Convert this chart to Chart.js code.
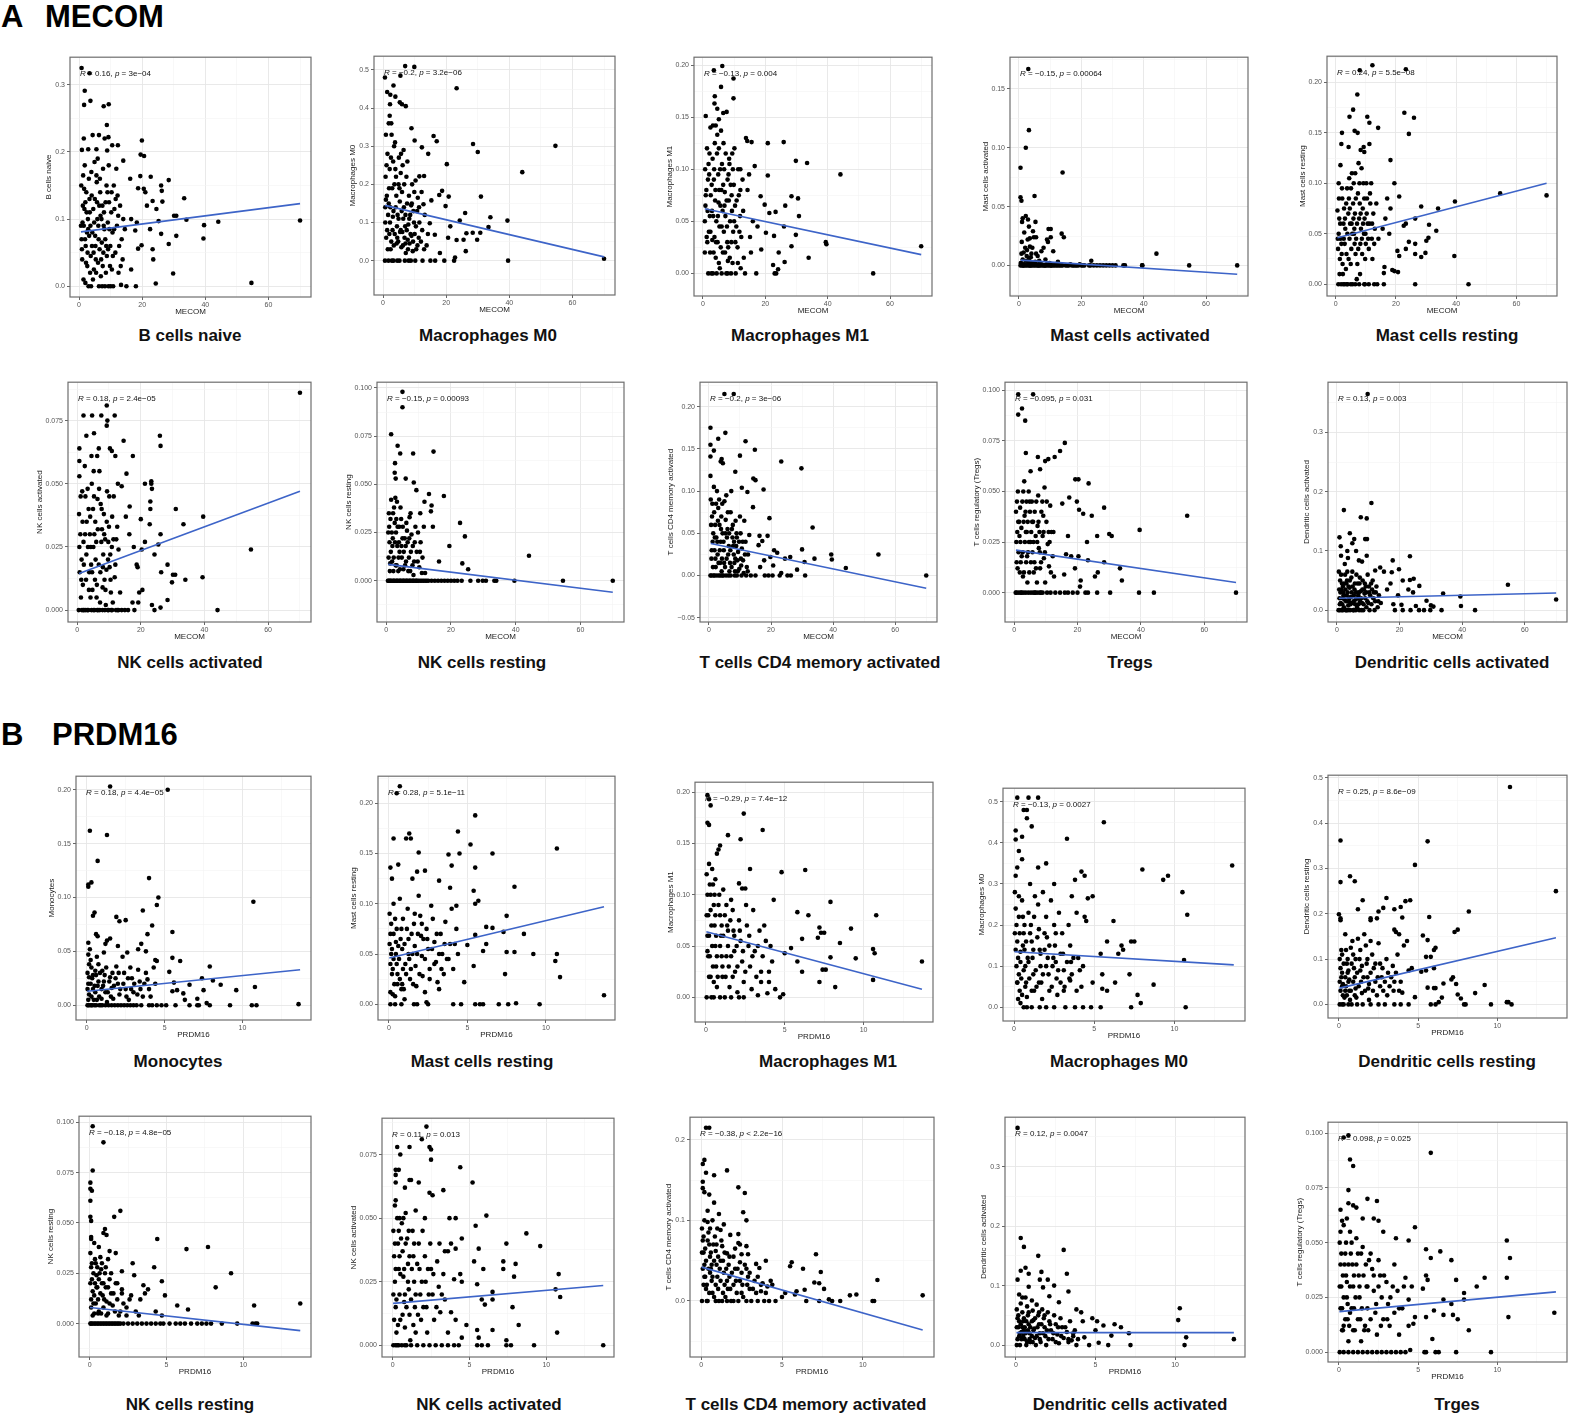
<!DOCTYPE html>
<html lang="en">
<head>
<meta charset="UTF-8">
<title>MECOM / PRDM16 immune infiltration correlations</title>
<script src="https://cdn.jsdelivr.net/npm/chart.js@4.4.1/dist/chart.umd.min.js"></script>
<style>
  body { margin: 0; background: #fff; width: 1571px; height: 1418px; position: relative; overflow: hidden;
         font-family: "Liberation Sans", Arial, sans-serif; }
  .hdr { position: absolute; font-weight: bold; font-size: 31px; line-height: 1; color: #000; }
  .ttl { position: absolute; font-weight: bold; font-size: 17px; transform: translate(-50%, -50%);
         white-space: nowrap; color: #111; }
  canvas { position: absolute; }
</style>
</head>
<body>
<div class="hdr" style="left:1px;top:1px">A</div>
<div class="hdr" style="left:45px;top:1px">MECOM</div>
<div class="hdr" style="left:1px;top:719px">B</div>
<div class="hdr" style="left:52px;top:719px">PRDM16</div>
<div id="root"></div>

<script>
// ---- data: [expression, cell fraction] per sample ----
const bCellsNaiveA = [[0.8,0.325],[3.3,0.317],[1.8,0.291],[1.6,0.27],[3.6,0.276],[7.8,0.268],[9.4,0.271],[8.8,0.24],[1.5,0.22],[4.3,0.225],[6.3,0.225],[8.1,0.22],[9.3,0.222],[10.5,0.21],[12.3,0.21],[19.9,0.217],[19.5,0.196],[20.6,0.194],[0.9,0.203],[2.9,0.204],[5.5,0.204],[8.9,0.202],[14,0.187],[16.2,0.16],[18.7,0.146],[19.4,0.164],[20.5,0.145],[22.7,0.163],[26,0.15],[26.2,0.142],[28.4,0.158],[23.3,0.127],[26.4,0.126],[24.5,0.115],[33.3,0.131],[30.1,0.105],[30.8,0.105],[34,0.099],[39.6,0.091],[44.1,0.096],[39.4,0.071],[30.8,0.075],[28.4,0.063],[26,0.078],[23.3,0.055],[23.5,0.04],[24.3,0.004],[29.8,0.019],[54.6,0.005],[70,0.098],[18,0.0],[15,0.0],[10,0.0],[13.3,0.002],[19.8,0.061],[18.7,0.056],[16.5,0.025],[21,0.14],[25.2,0.097],[22.5,0.085],[17.8,0.083],[16.5,0.1],[18.3,0.095],[21.5,0.12],
  [0.7,0.15],[1.2,0.12],[1.5,0.09],[2.1,0.06],[2.6,0.03],[3.0,0.0],[3.4,0.11],[3.9,0.17],[4.2,0.08],[4.6,0.05],[5.0,0.13],[5.4,0.02],[5.8,0.1],[6.2,0.07],[6.6,0.16],[7.0,0.04],[7.4,0.12],[7.8,0.09],[8.2,0.0],[8.6,0.06],[9.0,0.14],[9.4,0.18],[9.8,0.03],[10.2,0.11],[10.6,0.08],[11.0,0.15],[11.5,0.05],[12.0,0.09],[12.5,0.02],[13.0,0.12],[13.5,0.07],[14.0,0.1],[1.0,0.04],[1.8,0.18],[2.3,0.14],[2.8,0.1],[3.2,0.075],[3.7,0.045],[4.4,0.01],[4.9,0.185],[5.6,0.155],[6.0,0.035],[6.8,0.105],[7.2,0.065],[7.6,0.175],[8.4,0.125],[8.8,0.045],[9.6,0.085],[10.4,0.025],[11.2,0.115],[11.8,0.175],[12.7,0.06],[0.6,0.09],[1.4,0.01],[2.0,0.125],[2.5,0.08],[3.5,0.02],[4.0,0.135],[5.2,0.06],[6.4,0.12],[7.3,0.0],[8.0,0.085],[9.2,0.055],[10.8,0.0],[0.9,0.055],[1.6,0.145],[2.2,0.035],[4.8,0.095],[6.9,0.015],[5.9,0.19],[3.1,0.16],[12.2,0.135],[13.8,0.04],[14.5,0.085],
  [1.1,0.095],[1.9,0.07],[2.4,0.11],[2.7,0.05],[3.3,0.13],[3.6,0.09],[4.1,0.06],[4.5,0.115],[5.1,0.075],[5.3,0.04],[5.7,0.125],[6.1,0.09],[6.5,0.055],[6.7,0.14],[7.1,0.1],[7.5,0.03],[7.9,0.11],[8.3,0.07],[8.7,0.15],[9.1,0.095],[9.5,0.125],[9.9,0.06],[10.3,0.14],[10.7,0.045],[11.1,0.085],[11.6,0.13],[12.4,0.105],[13.2,0.03],[1.3,0.165],[2.0,0.005],[3.8,0.0],[4.7,0.025],[5.5,0.165],[6.3,0.0],[7.7,0.05],[8.5,0.02],[9.3,0.0],[0.8,0.07],[1.7,0.115],[2.9,0.085]];
const macroM0A = [[0.6,0.48],[7,0.51],[9.9,0.508],[5.5,0.485],[3.3,0.459],[1.3,0.442],[2.3,0.435],[3.9,0.43],[5.3,0.415],[6,0.41],[7.2,0.405],[2.2,0.41],[2.1,0.38],[9,0.347],[1.8,0.36],[2.6,0.36],[23.3,0.452],[28.5,0.306],[30,0.285],[54.6,0.301],[44.1,0.232],[20.2,0.253],[16,0.327],[17,0.313],[12.3,0.297],[14.3,0.28],[10,0.315],[31,0.168],[33.4,0.088],[34,0.114],[39.4,0.105],[39.6,0.0],[29.8,0.055],[30.8,0.073],[28.4,0.073],[26,0.125],[26.4,0.072],[26.2,0.025],[25.5,0.055],[24.3,0.105],[23.3,0.054],[22.8,0.008],[22.5,0.0],[20.6,0.06],[19.8,0.143],[20.8,0.168],[18.7,0.183],[17.8,0.172],[15.3,0.158],[14.8,0.098],[16.4,0.068],[18,0.02],[19.4,0.0],[15,0.0],[16.5,0.0],[70,0.005],[13,0.222],[11.5,0.221],[12.8,0.148],[21.3,0.09],
  [0.8,0.22],[1.2,0.17],[1.6,0.12],[2.0,0.07],[2.4,0.03],[2.8,0.0],[3.2,0.26],[3.6,0.2],[4.0,0.14],[4.4,0.09],[4.8,0.05],[5.2,0.0],[5.6,0.23],[6.0,0.18],[6.4,0.11],[6.8,0.06],[7.2,0.02],[7.6,0.15],[8.0,0.095],[8.4,0.045],[8.8,0.0],[9.2,0.2],[9.6,0.13],[10,0.07],[10.5,0.03],[11,0.165],[11.5,0.1],[12,0.05],[12.5,0.0],[13.2,0.12],[0.7,0.1],[1.0,0.06],[1.4,0.28],[1.9,0.19],[2.3,0.14],[2.7,0.33],[3.0,0.08],[3.4,0.04],[3.8,0.31],[4.2,0.17],[4.6,0.12],[5.0,0.27],[5.4,0.075],[5.8,0.035],[6.2,0.25],[6.6,0.14],[7.0,0.09],[7.4,0.22],[7.8,0.055],[8.2,0.17],[8.6,0.12],[9.0,0.065],[9.4,0.025],[9.8,0.1],[10.3,0.21],[10.8,0.13],[11.3,0.06],[12.2,0.18],[13.8,0.04],[14.2,0.07],[0.6,0.0],[1.7,0.0],[4.5,0.0],[6.9,0.0],[10.2,0.0],[3.1,0.115],[5.3,0.155],[7.1,0.045],[8.9,0.145],[2.1,0.24],[4.9,0.2],[0.9,0.33],[3.5,0.3],[6.5,0.29],
  [0.9,0.16],[1.3,0.08],[1.8,0.15],[2.2,0.1],[2.6,0.05],[2.9,0.19],[3.3,0.13],[3.7,0.07],[4.1,0.22],[4.5,0.06],[4.9,0.11],[5.2,0.19],[5.6,0.08],[5.9,0.13],[6.3,0.04],[6.7,0.2],[7.1,0.12],[7.5,0.08],[7.9,0.03],[8.3,0.11],[8.7,0.07],[9.1,0.15],[9.5,0.05],[9.9,0.18],[10.4,0.09],[10.9,0.04],[11.4,0.14],[12.4,0.08],[13,0.03],[1.1,0.25],[2.5,0.27],[3.9,0.24],[5.7,0.28],[7.7,0.26],[1.5,0.03],[3.3,0.0],[8.1,0.0],[0.7,0.14],[6.1,0.075],[4.3,0.045]];
const macroM1A = [[6.2,0.199],[3.5,0.195],[9.8,0.187],[5.8,0.179],[9.8,0.168],[3.8,0.17],[3.7,0.163],[4.6,0.158],[6.5,0.154],[7.6,0.155],[0.9,0.151],[5.1,0.148],[2.4,0.14],[3.2,0.142],[4.1,0.142],[5.8,0.137],[4.6,0.133],[13.8,0.13],[14.2,0.127],[15.6,0.126],[20.8,0.125],[25.9,0.126],[29.8,0.108],[33.4,0.106],[44.1,0.095],[20.8,0.094],[16.6,0.103],[12,0.1],[14.8,0.095],[18.5,0.074],[28.4,0.074],[30.5,0.072],[26.4,0.065],[30.8,0.055],[23.3,0.059],[19.8,0.066],[21.3,0.058],[26,0.045],[29.8,0.037],[22.8,0.036],[24.3,0.02],[28.4,0.026],[33.9,0.015],[39.4,0.03],[39.6,0.028],[54.6,0.0],[70,0.026],[26.2,0.011],[23,0.0],[23.5,0.0],[24.1,0.004],[22.5,0.008],[17.1,0.0],[20.2,0.039],[18.7,0.023],[17.5,0.045],[16,0.05],[15.4,0.02],[13.5,0.0],
  [0.7,0.1],[1.1,0.08],[1.5,0.06],[1.9,0.04],[2.3,0.02],[2.7,0.0],[3.1,0.11],[3.5,0.09],[3.9,0.07],[4.3,0.05],[4.7,0.03],[5.1,0.01],[5.5,0.1],[5.9,0.08],[6.3,0.06],[6.7,0.04],[7.1,0.02],[7.5,0.0],[7.9,0.09],[8.3,0.07],[8.7,0.05],[9.1,0.03],[9.5,0.01],[9.9,0.085],[10.3,0.065],[10.7,0.045],[11.1,0.025],[11.5,0.075],[11.9,0.055],[12.3,0.035],[12.7,0.09],[13.1,0.015],[0.6,0.05],[1.3,0.12],[2.0,0.095],[2.5,0.075],[3.3,0.055],[3.7,0.035],[4.1,0.015],[4.5,0.115],[4.9,0.095],[5.3,0.045],[5.7,0.025],[6.1,0.105],[6.5,0.085],[6.9,0.065],[7.3,0.115],[7.7,0.045],[8.1,0.025],[8.5,0.105],[8.9,0.085],[9.3,0.06],[9.7,0.04],[10.1,0.12],[10.5,0.0],[11.3,0.1],[12.1,0.005],[1.7,0.0],[4.4,0.0],[6.0,0.0],[9.0,0.0],[0.9,0.075],[2.2,0.055],[3.0,0.032],[5.0,0.068],[7.0,0.078],[8.0,0.012],[11.7,0.04],[12.9,0.06],[14.3,0.08],[15.1,0.035],
  [0.8,0.065],[1.2,0.035],[1.6,0.09],[1.8,0.105],[2.4,0.04],[2.8,0.085],[2.9,0.06],[3.4,0.02],[3.6,0.1],[4.0,0.08],[4.2,0.03],[4.8,0.055],[5.2,0.08],[5.4,0.005],[5.6,0.065],[6.0,0.045],[6.4,0.02],[6.8,0.1],[7.2,0.055],[7.6,0.07],[7.8,0.03],[8.2,0.095],[8.6,0.015],[9.2,0.075],[9.6,0.1],[10.0,0.05],[10.4,0.03],[10.8,0.07],[11.2,0.01],[12.0,0.08],[0.6,0.02],[1.4,0.03],[2.1,0.115],[3.8,0.125],[5.1,0.12],[6.6,0.125],[8.4,0.11],[9.4,0.115],[3.2,0.0],[7.9,0.0]];
const mastActA = [[3,0.167],[3.2,0.115],[2.2,0.1],[0.5,0.083],[14,0.079],[0.5,0.058],[0.8,0.055],[5,0.059],[1.2,0.04],[1,0.037],[2.2,0.042],[2.9,0.039],[3.2,0.033],[5.3,0.037],[4.5,0.029],[9.5,0.031],[10.2,0.031],[13.7,0.027],[14.4,0.024],[10.2,0.024],[9.3,0.02],[4.8,0.024],[5.5,0.024],[2.8,0.022],[3.5,0.023],[4.3,0.015],[3.5,0.016],[7.9,0.015],[9,0.022],[11,0.012],[0.8,0.01],[1.5,0.011],[2.5,0.008],[3.8,0.007],[5.5,0.01],[6.5,0.004],[23.2,0.004],[44.1,0.01],[1.2,0.005],[3,0.003],[2,0.015],
  [0.5,0],[1,0],[1.5,0],[2,0],[2.5,0],[3,0],[3.5,0],[4,0],[4.5,0],[5,0],[5.5,0],[6,0],[6.5,0],[7,0],[7.5,0],[8,0],[8.5,0],[9,0],[9.5,0],[10,0],[10.5,0],[11,0],[11.5,0],[12,0],[12.5,0],[13,0],[14,0],[15,0],[16,0],[17,0],[18,0],[19,0],[20,0],[21,0],[22.5,0],[24,0],[25,0],[26,0],[27,0],[29,0],[30,0],[31,0],[33.5,0],[34,0],[39.5,0],[39.6,0],[54.6,0],[70,0],[1.8,0.001],[4.2,0.001],[6.8,0.002],[8.8,0.001],[12.3,0.001],[16.5,0.001],[19.5,0.001],
  [0.6,0.002],[1.3,0.001],[2.3,0.004],[3.3,0.006],[4.1,0.002],[5.2,0.003],[6.2,0.001],[7.3,0.001],[9.8,0.002],[11.8,0.001],[0.9,0.02],[1.7,0.028],[2.6,0.013],[4.0,0.01],[6.0,0.008],[7.2,0.012],[8.5,0.005],[12.5,0.003],[1.4,0],[3.6,0],[6.3,0],[8.3,0],[10.3,0],[13.5,0],[15.5,0],[17.5,0],[18.5,0],[20.5,0],[23,0],[28,0]];
const mastRestA = [[12.2,0.217],[8,0.212],[23.3,0.213],[7.2,0.188],[22.8,0.17],[26,0.165],[5.8,0.173],[4.6,0.166],[10.5,0.166],[11.2,0.16],[24.3,0.149],[14.1,0.155],[2.1,0.15],[6.3,0.152],[7.3,0.15],[1.9,0.139],[4.3,0.136],[11.2,0.139],[9.3,0.136],[9.5,0.131],[8.3,0.133],[18.2,0.123],[19.5,0.1],[21.1,0.087],[28.4,0.077],[34,0.075],[39.6,0.082],[54.6,0.09],[70,0.088],[26.4,0.065],[23.3,0.06],[22.6,0.058],[31,0.059],[33.4,0.053],[30.8,0.046],[30.1,0.043],[26.4,0.04],[24.3,0.042],[23.3,0.035],[26.4,0.03],[28.4,0.027],[29.8,0.031],[39.4,0.028],[26.4,0.0],[44.1,0.0],[21.1,0.028],[20.5,0.033],[19.5,0.013],[20.7,0.012],[18.8,0.014],[16.2,0.017],[16,0.011],[16,0.0],[13.8,0.0],[12.8,0.0],[9.5,0.0],[7.8,0.0],[1,0.1],[1.6,0.118],[17.8,0.05],[15.6,0.055],[14.2,0.045],[17.1,0.085],[18.2,0.075],[16.5,0.065],
  [0.6,0.073],[1.0,0.05],[1.4,0.025],[1.8,0.0],[2.2,0.085],[2.6,0.06],[3.0,0.04],[3.4,0.015],[3.8,0.095],[4.2,0.07],[4.6,0.045],[5.0,0.02],[5.4,0.11],[5.8,0.08],[6.2,0.055],[6.6,0.03],[7.0,0.005],[7.4,0.09],[7.8,0.065],[8.2,0.04],[8.6,0.115],[9.0,0.075],[9.4,0.05],[9.8,0.025],[10.2,0.1],[10.6,0.06],[11.0,0.035],[11.5,0.08],[12.0,0.045],[12.5,0.07],[13.0,0.055],[0.8,0.035],[1.2,0.065],[1.6,0.045],[2.0,0.03],[2.4,0.01],[2.8,0.075],[3.2,0.055],[3.6,0.03],[4.0,0.0],[4.4,0.085],[4.8,0.06],[5.2,0.035],[5.6,0.0],[6.0,0.1],[6.4,0.07],[6.8,0.045],[7.2,0.02],[7.6,0.12],[8.0,0.08],[8.4,0.055],[8.8,0.03],[9.2,0.1],[9.6,0.065],[10.0,0.04],[10.4,0.085],[11.2,0.06],[11.8,0.1],[12.2,0.025],[13.5,0.08],[3.0,0.0],[5.0,0.0],[6.5,0.0],[2.5,0.0],
  [0.7,0.045],[1.1,0.085],[1.5,0.06],[1.9,0.04],[2.3,0.02],[2.7,0.045],[3.1,0.065],[3.5,0.08],[3.9,0.05],[4.3,0.025],[4.7,0.075],[5.1,0.095],[5.5,0.05],[5.9,0.065],[6.3,0.04],[6.7,0.085],[7.1,0.06],[7.5,0.035],[7.9,0.1],[8.3,0.07],[8.7,0.045],[9.1,0.06],[9.5,0.085],[9.9,0.05],[10.3,0.07],[10.8,0.045],[11.4,0.09],[12.1,0.06],[12.8,0.04],[1.3,0.01],[2.1,0.095],[4.5,0.105],[6.5,0.11],[8.1,0.01],[9.7,0.0],[11.0,0.0],[0.9,0.0],[3.7,0.0],[5.3,0.06],[6.1,0.05]];
const nkActA = [[70,0.086],[9.3,0.081],[2,0.077],[4.7,0.077],[7.6,0.077],[11.8,0.077],[9.5,0.075],[9.3,0.073],[2.9,0.069],[5.3,0.07],[26,0.069],[26.2,0.065],[14.6,0.067],[0.7,0.064],[10.3,0.064],[10.9,0.063],[6.8,0.064],[12,0.061],[17.5,0.061],[0.7,0.059],[4.5,0.061],[6.3,0.061],[0.7,0.053],[15.5,0.054],[23.3,0.051],[21.3,0.05],[23.3,0.05],[23.5,0.048],[12.8,0.05],[14,0.049],[31,0.04],[39.6,0.037],[23,0.043],[23,0.04],[16.5,0.041],[20,0.036],[22.8,0.034],[33.4,0.034],[26.2,0.03],[25.5,0.026],[24.3,0.022],[21.3,0.027],[20.3,0.024],[54.6,0.024],[28.4,0.018],[26.4,0.015],[30.1,0.014],[30.8,0.014],[34,0.012],[39.4,0.013],[29.8,0.011],[28.4,0.004],[26.2,0.001],[24.3,0.0],[23.5,0.002],[44.1,0.0],[19.5,0.007],[20.5,0.008],[19.2,0.003],[18,0.0],[17.4,0.003],[15,0.0],[16,0.0],[14,0.0],[18.7,0.018],[17.8,0.025],[16.4,0.03],[15.3,0.037],[19,0.017],
  [0.6,0.038],[1.0,0.03],[1.4,0.02],[1.8,0.01],[2.2,0.0],[2.6,0.045],[3.0,0.035],[3.4,0.025],[3.8,0.015],[4.2,0.005],[4.6,0.05],[5.0,0.04],[5.4,0.03],[5.8,0.02],[6.2,0.01],[6.6,0.0],[7.0,0.055],[7.4,0.042],[7.8,0.032],[8.2,0.022],[8.6,0.012],[9.0,0.002],[9.4,0.047],[9.8,0.027],[10.2,0.017],[10.6,0.007],[11.0,0.037],[11.4,0.028],[11.8,0.013],[12.2,0.0],[12.6,0.033],[13.0,0.024],[0.8,0.015],[1.2,0.005],[1.6,0.047],[2.0,0.027],[2.4,0.057],[2.8,0.012],[3.2,0.0],[3.6,0.04],[4.0,0.03],[4.4,0.018],[4.8,0.008],[5.2,0.055],[5.6,0.012],[6.0,0.027],[6.4,0.044],[6.8,0.018],[7.2,0.003],[7.6,0.027],[8.0,0.009],[8.4,0.038],[8.8,0.028],[9.2,0.016],[9.6,0.0],[10.0,0.033],[10.4,0.022],[11.2,0.003],[12.0,0.018],[13.5,0.007],[0.5,0.0],[1.5,0.0],[4.5,0.0],[8.0,0.0],[11.0,0.0],[13.0,0.0],[5.5,0.0],
  [0.7,0.025],[1.1,0.045],[1.3,0.012],[1.7,0.035],[2.1,0.018],[2.5,0.03],[2.9,0.022],[3.3,0.048],[3.7,0.008],[4.1,0.037],[4.3,0.025],[4.7,0.015],[5.1,0.025],[5.3,0.045],[5.7,0.035],[6.1,0.005],[6.5,0.032],[6.9,0.048],[7.3,0.015],[7.7,0.04],[8.1,0.017],[8.5,0.03],[8.9,0.008],[9.3,0.035],[9.7,0.02],[10.1,0.045],[10.5,0.012],[10.9,0.025],[11.5,0.045],[12.3,0.028],[1.9,0],[2.7,0],[3.5,0],[5.1,0],[6.3,0],[7.1,0],[8.7,0],[9.9,0],[10.7,0],[12.7,0]];
const nkRestA = [[5,0.098],[5,0.09],[1.5,0.076],[3.5,0.07],[4.3,0.066],[8.3,0.066],[14.6,0.067],[2.7,0.061],[2.6,0.056],[2.9,0.053],[6,0.053],[8.5,0.051],[9.3,0.047],[13.2,0.045],[17.8,0.044],[1.5,0.042],[2.8,0.043],[3.3,0.041],[11.8,0.041],[14,0.039],[13.8,0.036],[10.5,0.035],[7.5,0.035],[22.8,0.03],[24.3,0.023],[14.4,0.028],[19.5,0.018],[23.5,0.009],[25.3,0.006],[44.1,0.013],[16.3,0.01],
  [0.6,0.025],[1.0,0.02],[1.4,0.015],[1.8,0.01],[2.2,0.005],[2.6,0.03],[3.0,0.025],[3.4,0.018],[3.8,0.012],[4.2,0.006],[4.6,0.032],[5.0,0.022],[5.4,0.015],[5.8,0.008],[6.2,0.03],[6.6,0.02],[7.0,0.012],[7.4,0.005],[7.8,0.024],[8.2,0.018],[8.6,0.01],[9.0,0.028],[9.4,0.015],[9.8,0.025],[10.2,0.007],[10.6,0.02],[11.2,0.012],[12.0,0.004],[0.8,0.035],[1.2,0.009],[2.0,0.022],[2.4,0.038],[3.2,0.008],[4.0,0.028],[4.8,0.012],[6.0,0.018],[7.2,0.033],[8.4,0.003],[11.6,0.028],
  [0.5,0],[1,0],[1.5,0],[2,0],[2.5,0],[3,0],[3.5,0],[4,0],[4.5,0],[5,0],[5.5,0],[6,0],[6.5,0],[7,0],[7.5,0],[8,0],[8.5,0],[9,0],[9.5,0],[10,0],[10.5,0],[11,0],[11.5,0],[12,0],[12.5,0],[13,0],[14,0],[15,0],[16,0],[17,0],[18,0],[19,0],[20,0],[21,0],[22,0],[23.3,0],[26,0],[28.4,0],[29.8,0],[30.8,0],[33.4,0],[34,0],[39.6,0],[54.6,0],[70,0],
  [0.7,0.012],[0.9,0.028],[1.1,0.005],[1.3,0.032],[1.7,0.025],[1.9,0.018],[2.1,0.035],[2.3,0.012],[2.7,0.02],[2.9,0.008],[3.1,0.032],[3.5,0.028],[3.7,0.005],[3.9,0.02],[4.1,0.015],[4.4,0.038],[4.7,0.018],[5.1,0.028],[5.3,0.006],[5.7,0.022],[6.1,0.01],[6.4,0.026],[6.8,0.005],[7.1,0.022],[7.6,0.015],[8.1,0.008],[8.8,0.02],[9.7,0.01],[10.4,0.015],[11.0,0.004],[0.7,0],[1.3,0],[2.3,0],[3.3,0],[4.3,0],[5.3,0],[6.3,0],[7.3,0],[8.3,0],[9.3,0]];
const cd4ActA = [[5,0.215],[8,0.215],[0.5,0.175],[5.3,0.169],[3,0.162],[11.8,0.159],[0.5,0.155],[14.8,0.149],[1.6,0.148],[0.5,0.141],[10,0.142],[4.1,0.138],[4.5,0.133],[3.8,0.135],[23.3,0.135],[29.8,0.127],[8.5,0.123],[0.5,0.118],[14.3,0.115],[15,0.113],[17.6,0.102],[10.6,0.104],[12.4,0.099],[14.2,0.081],[19.5,0.068],[33.4,0.057],[18.9,0.047],[16.3,0.047],[17.2,0.041],[16,0.036],[21,0.03],[22,0.027],[24.5,0.02],[26.2,0.022],[30,0.031],[30.8,0.016],[34,0.02],[39.4,0.025],[39.6,0.019],[44.1,0.009],[54.6,0.025],[70,0.0],[31,0.0],[28.4,0.007],[26.4,0.0],[25.3,0.0],[23.3,0.003],[22.8,0.0],[20.5,0.0],[19.2,0.0],[18,0.0],[20.7,0.012],[19.8,0.022],[17.8,0.018],[16.5,0.01],[15,0.0],
  [0.6,0.09],[1.0,0.07],[1.4,0.05],[1.8,0.03],[2.2,0.01],[2.6,0.1],[3.0,0.08],[3.4,0.06],[3.8,0.04],[4.2,0.02],[4.6,0.0],[5.0,0.088],[5.4,0.066],[5.8,0.045],[6.2,0.025],[6.6,0.005],[7.0,0.075],[7.4,0.055],[7.8,0.035],[8.2,0.015],[8.6,0.065],[9.0,0.045],[9.4,0.028],[9.8,0.008],[10.2,0.05],[10.6,0.032],[11.0,0.018],[11.4,0.065],[11.8,0.04],[12.2,0.01],[12.6,0.025],[13.0,0.048],[0.8,0.02],[1.2,0.04],[1.6,0.105],[2.0,0.06],[2.4,0.045],[2.8,0.025],[3.2,0.0],[3.6,0.015],[4.0,0.07],[4.4,0.05],[4.8,0.03],[5.2,0.01],[5.6,0.095],[6.0,0.055],[6.4,0.035],[6.8,0.015],[7.2,0.1],[7.6,0.045],[8.0,0.025],[8.4,0.005],[8.8,0.035],[9.2,0.018],[10.0,0.07],[10.4,0.012],[11.2,0.003],[0.5,0.0],[1.5,0.0],[2.5,0.0],[5.5,0.0],[7.0,0.0],[9.0,0.0],[10.5,0.0],[12.0,0.0],[13.5,0.0],
  [0.7,0.06],[0.9,0.03],[1.1,0.085],[1.3,0.01],[1.7,0.075],[1.9,0.045],[2.1,0.02],[2.3,0.085],[2.7,0.04],[2.9,0.065],[3.1,0.015],[3.3,0.09],[3.5,0.03],[3.9,0.055],[4.1,0.005],[4.3,0.085],[4.7,0.04],[4.9,0.015],[5.3,0.05],[5.7,0.02],[6.1,0.075],[6.5,0.05],[6.9,0.03],[7.3,0.01],[7.7,0.06],[8.1,0.04],[8.5,0.02],[8.9,0.05],[9.3,0.005],[9.7,0.04],[10.3,0.02],[10.9,0.04],[11.6,0.025],[12.5,0.005],[0.8,0],[1.8,0],[3.7,0],[4.3,0],[6.3,0],[8.3,0]];
const tregsA = [[1.3,0.098],[6,0.098],[2.5,0.091],[1.3,0.088],[3.5,0.085],[16,0.074],[14.5,0.07],[3.7,0.069],[12.8,0.067],[10.8,0.066],[9.8,0.065],[7.5,0.067],[8.2,0.061],[5.2,0.06],[19.3,0.056],[20.3,0.056],[23.5,0.054],[54.6,0.038],[28.4,0.042],[19.8,0.045],[17.4,0.047],[15.2,0.044],[20.5,0.041],[21.8,0.039],[24.5,0.038],[39.6,0.031],[26.2,0.028],[30,0.029],[30.8,0.028],[17,0.028],[23,0.025],[28.4,0.015],[33.4,0.012],[34,0.006],[26.4,0.01],[25.5,0.008],[23.3,0.016],[20.3,0.018],[18,0.018],[21,0.006],[20.8,0.003],[19.2,0.012],[16.4,0.019],[15.8,0.009],[70,0.0],[44.1,0.0],[39.4,0.0],[30.3,0.0],[26.2,0.0],[23.3,0.0],[22.5,0.0],[20,0.0],[18.5,0.0],[17,0.0],[16,0.0],[14.5,0.0],[13,0.0],
  [0.6,0.04],[1.0,0.03],[1.4,0.02],[1.8,0.01],[2.2,0.0],[2.6,0.045],[3.0,0.035],[3.4,0.025],[3.8,0.015],[4.2,0.005],[4.6,0.05],[5.0,0.04],[5.4,0.03],[5.8,0.02],[6.2,0.01],[6.6,0.0],[7.0,0.045],[7.4,0.033],[7.8,0.022],[8.2,0.012],[8.6,0.04],[9.0,0.028],[9.4,0.017],[9.8,0.005],[10.2,0.035],[10.6,0.024],[11.0,0.013],[11.4,0.043],[11.8,0.03],[12.2,0.018],[12.6,0.008],[0.8,0.015],[1.2,0.05],[1.6,0.035],[2.0,0.025],[2.4,0.018],[2.8,0.008],[3.2,0.055],[3.6,0.04],[4.0,0.03],[4.4,0.02],[4.8,0.01],[5.2,0.025],[5.6,0.045],[6.0,0.035],[6.4,0.015],[6.8,0.028],[7.2,0.005],[7.6,0.048],[8.0,0.03],[8.4,0.0],[9.2,0.038],[9.6,0.052],[10.4,0.0],[11.2,0.025],[0.5,0.0],[1.5,0.0],[3.0,0.0],[4.5,0.0],[6.0,0.0],[7.5,0.0],[9.0,0.0],[11.5,0.0],
  [0.7,0.025],[0.9,0.045],[1.1,0.012],[1.3,0.035],[1.7,0.028],[1.9,0.042],[2.1,0.015],[2.3,0.032],[2.7,0.02],[2.9,0.05],[3.1,0.01],[3.3,0.038],[3.7,0.03],[3.9,0.045],[4.1,0.018],[4.3,0.035],[4.7,0.025],[4.9,0.045],[5.3,0.015],[5.7,0.035],[6.1,0.025],[6.5,0.04],[6.9,0.012],[7.3,0.025],[7.7,0.035],[8.1,0.02],[8.5,0.015],[8.9,0.045],[9.3,0.03],[9.7,0.02],[10.3,0.045],[10.9,0.03],[11.6,0.01],[12.4,0.03],[0.8,0],[2.3,0],[3.7,0],[5.3,0],[6.7,0],[8.3,0]];
const dcActA = [[9.8,0.365],[11,0.181],[2.2,0.169],[7.6,0.157],[9.5,0.155],[4.1,0.13],[0.8,0.123],[9,0.12],[9.6,0.12],[5.5,0.12],[4.9,0.113],[1.2,0.108],[3.3,0.1],[1.3,0.092],[6.1,0.1],[9.5,0.092],[23.3,0.091],[17.8,0.084],[7,0.084],[3.5,0.088],[8,0.082],[2.5,0.078],[13.8,0.072],[12.2,0.067],[19.8,0.069],[17.5,0.064],[15,0.065],[24.5,0.053],[23.3,0.051],[21,0.05],[26.3,0.041],[33.9,0.028],[54.6,0.043],[39.4,0.023],[39.6,0.007],[44.1,0.0],[70,0.018],[28.6,0.016],[30,0.008],[30.8,0.006],[33.4,0.0],[29.8,0.0],[26.2,0.0],[25.2,0.007],[24.3,0.03],[22.8,0.035],[19.5,0.025],[20.6,0.009],[18,0.01],[16,0.035],[17.1,0.045],[18.5,0.0],[21,0.0],[23.5,0.0],[27.8,0.0],
  [0.6,0.065],[1.0,0.05],[1.4,0.035],[1.8,0.02],[2.2,0.005],[2.6,0.06],[3.0,0.045],[3.4,0.03],[3.8,0.015],[4.2,0.0],[4.6,0.055],[5.0,0.04],[5.4,0.025],[5.8,0.01],[6.2,0.06],[6.6,0.045],[7.0,0.03],[7.4,0.015],[7.8,0.0],[8.2,0.05],[8.6,0.035],[9.0,0.02],[9.4,0.005],[9.8,0.06],[10.2,0.04],[10.6,0.025],[11.0,0.01],[11.4,0.05],[11.8,0.03],[12.2,0.015],[12.6,0.04],[13.0,0.005],[13.4,0.025],[14.0,0.012],[0.8,0.02],[1.2,0.012],[1.6,0.045],[2.0,0.03],[2.4,0.018],[2.8,0.0],[3.2,0.05],[3.6,0.008],[4.0,0.038],[4.4,0.022],[4.8,0.012],[5.2,0.0],[5.6,0.035],[6.0,0.018],[6.4,0.005],[6.8,0.025],[7.2,0.045],[7.6,0.032],[8.0,0.012],[8.4,0.0],[8.8,0.028],[9.2,0.04],[10.0,0.012],[10.4,0.0],[11.2,0.035],[12.0,0.0],[0.5,0.0],[1.5,0.0],[3.0,0.0],[6.0,0.0],
  [0.7,0.035],[0.9,0.01],[1.1,0.03],[1.3,0.06],[1.7,0.01],[1.9,0.04],[2.1,0.025],[2.3,0.045],[2.7,0.035],[2.9,0.015],[3.1,0.025],[3.3,0.065],[3.7,0.04],[3.9,0.02],[4.1,0.05],[4.3,0.01],[4.7,0.03],[4.9,0.065],[5.3,0.015],[5.7,0.045],[6.1,0.03],[6.5,0.02],[6.9,0.01],[7.3,0.055],[7.7,0.02],[8.1,0.035],[8.5,0.01],[8.9,0.045],[9.3,0.03],[9.7,0.015],[10.3,0.03],[10.9,0.045],[11.6,0.02],[12.4,0.03],[13.2,0.015],[0.9,0],[1.9,0],[3.5,0],[5.3,0],[7.1,0]];

const monocytesB = [[1.5,0.203],[5.2,0.2],[0.2,0.162],[1.3,0.158],[0.7,0.134],[4,0.118],[0.1,0.112],[0.3,0.114],[0.1,0.11],[4.6,0.1],[4.5,0.093],[10.7,0.096],[3.6,0.088],[0.5,0.086],[0.4,0.083],[1.9,0.082],[2.1,0.078],[2.5,0.079],[4.2,0.074],[5.5,0.068],[0.6,0.066],[0.7,0.064],[3.9,0.066],[1.3,0.06],[1.5,0.062],[1.2,0.057],[1.1,0.049],[2.6,0.049],[2,0.055],[3.3,0.052],[3.8,0.05],[4.4,0.042],[4.5,0.041],[3.5,0.057],[5.5,0.044],[6,0.041],[7.9,0.036],[7.4,0.025],[8.1,0.023],[8.6,0.019],[9.6,0.014],[10.8,0.017],[13.6,0.001],[10.9,0.0],[10.6,0.0],[9.2,0.0],[7.9,0.0],[7.2,0.0],[7.1,0.0],[6.6,0.0],[6.3,0.005],[5.7,0.0],[5.1,0.0],[4.8,0.0],[4.5,0.0],[5.3,0.031],[5.6,0.021],[5.5,0.013],[5.8,0.014],[6.2,0.011],[6.6,0.019],[7.1,0.006],[7.5,0.014],[7.7,0.002],[0.1,0.047],[0.1,0.058],[0.2,0.052],
  [0.05,0.03],[0.1,0.02],[0.15,0.01],[0.2,0.0],[0.3,0.035],[0.35,0.025],[0.4,0.015],[0.45,0.005],[0.6,0.028],[0.7,0.018],[0.8,0.008],[0.9,0.0],[1.0,0.032],[1.1,0.022],[1.2,0.012],[1.3,0.003],[1.5,0.026],[1.6,0.016],[1.7,0.006],[1.9,0.036],[2.0,0.02],[2.1,0.01],[2.2,0.0],[2.4,0.03],[2.5,0.015],[2.7,0.005],[2.9,0.025],[3.0,0.012],[3.2,0.0],[3.4,0.022],[3.6,0.008],[3.8,0.03],[4.0,0.015],[4.2,0.0],[4.4,0.02],[0.05,0.0],[0.25,0.042],[0.5,0.0],[0.75,0.038],[1.4,0.0],[1.8,0.0],[2.6,0.0],[3.0,0.0],[3.5,0.0],[4.0,0.0],[0.15,0.026],[0.55,0.012],[0.95,0.015],[1.25,0.035],[1.65,0.03],[2.3,0.045],[2.8,0.035],[3.3,0.033],[3.9,0.024],[4.3,0.035],[0.65,0.045],[0.35,0.0],
  [0.05,0.015],[0.1,0.005],[0.15,0.038],[0.25,0.02],[0.3,0.008],[0.4,0.028],[0.5,0.018],[0.55,0.032],[0.65,0.005],[0.75,0.022],[0.85,0.03],[0.95,0.006],[1.05,0.018],[1.15,0.028],[1.35,0.012],[1.45,0.022],[1.55,0.008],[1.75,0.018],[1.85,0.025],[2.05,0.03],[2.15,0.015],[2.35,0.02],[2.55,0.008],[2.65,0.025],[2.85,0.015],[3.05,0.02],[3.25,0.01],[3.45,0.015],[3.7,0.02],[4.1,0.008],[0.1,0],[0.3,0],[0.6,0],[0.8,0],[1.0,0],[1.2,0],[1.6,0],[2.0,0],[2.4,0],[2.8,0]];
const mastRestB = [[0.7,0.217],[0.5,0.21],[5.5,0.188],[4.4,0.172],[1.3,0.17],[0.3,0.165],[1.1,0.165],[1.4,0.165],[3.8,0.149],[4.5,0.15],[5.2,0.159],[6.6,0.15],[10.7,0.155],[1.9,0.151],[4,0.138],[0.6,0.139],[5.5,0.136],[0.1,0.136],[1.5,0.125],[2.3,0.133],[1.8,0.132],[3.2,0.123],[0.2,0.125],[3.9,0.116],[8,0.117],[5.4,0.113],[5.7,0.103],[4.3,0.098],[5.5,0.1],[7.5,0.088],[6.6,0.076],[8.6,0.07],[7.3,0.072],[6.2,0.077],[5.5,0.069],[6.2,0.06],[9.2,0.05],[10.7,0.05],[10.6,0.043],[7.5,0.052],[8,0.052],[10.9,0.027],[7.4,0.03],[13.7,0.009],[5.4,0.038],[4.8,0.022],[6,0.053],[5,0.059],[8.1,0.001],[9.6,0.0],[7.6,0.0],[7,0.0],[6,0.0],[5.8,0.0],[5.5,0.0],[4.6,0.0],[4.1,0.0],[2.5,0.0],[1.6,0.0],[1.8,0.0],[0.8,0.0],[0.4,0.0],[0.1,0.0],[2.4,0.002],
  [0.05,0.09],[0.1,0.07],[0.15,0.05],[0.2,0.03],[0.25,0.01],[0.4,0.085],[0.45,0.062],[0.5,0.04],[0.55,0.02],[0.8,0.075],[0.85,0.055],[0.9,0.035],[0.95,0.015],[1.2,0.095],[1.25,0.065],[1.3,0.045],[1.35,0.025],[1.6,0.08],[1.65,0.058],[1.7,0.038],[1.75,0.018],[2.0,0.088],[2.05,0.068],[2.1,0.048],[2.15,0.028],[2.4,0.075],[2.5,0.055],[2.6,0.035],[2.8,0.085],[2.9,0.062],[3.0,0.042],[3.1,0.022],[3.3,0.07],[3.4,0.05],[3.6,0.082],[3.7,0.045],[3.9,0.06],[4.1,0.035],[4.3,0.075],[4.4,0.05],[0.3,0.1],[0.7,0.105],[1.0,0.005],[1.9,0.108],[2.3,0.012],[2.7,0.098],[3.2,0.015],[3.5,0.03],[4.0,0.095],[0.6,0.058],[1.1,0.03],[1.5,0.05],[2.2,0.065],[0.3,0.045],[0.7,0.025],
  [0.05,0.06],[0.1,0.04],[0.15,0.08],[0.2,0.055],[0.25,0.035],[0.3,0.07],[0.35,0.02],[0.45,0.05],[0.5,0.075],[0.55,0.03],[0.65,0.045],[0.75,0.065],[0.85,0.02],[0.9,0.085],[1.0,0.06],[1.05,0.04],[1.15,0.075],[1.25,0.05],[1.4,0.035],[1.45,0.07],[1.55,0.02],[1.65,0.09],[1.8,0.05],[1.85,0.07],[1.95,0.03],[2.1,0.08],[2.3,0.045],[2.45,0.065],[2.6,0.025],[2.75,0.055],[2.9,0.04],[3.05,0.07],[3.2,0.05],[3.35,0.035],[3.55,0.06],[3.8,0.045],[4.2,0.06],[0.1,0.012],[0.4,0.008],[0.8,0.015]];
const macroM1B = [[0.1,0.197],[0.2,0.193],[0.3,0.187],[2.4,0.179],[0.1,0.17],[0.2,0.168],[3.6,0.163],[1.4,0.158],[2.2,0.154],[0.9,0.148],[0.8,0.144],[0.7,0.14],[2.8,0.125],[4.8,0.122],[6.3,0.124],[2.1,0.111],[2.3,0.106],[2.5,0.106],[4.3,0.095],[7.9,0.093],[5.8,0.083],[6.5,0.08],[7.2,0.068],[10.8,0.08],[9.2,0.067],[8.5,0.053],[7.3,0.063],[7.5,0.063],[7.1,0.058],[6.1,0.057],[5.4,0.048],[10.6,0.047],[10.7,0.043],[9.5,0.038],[7.9,0.039],[13.7,0.035],[7.4,0.027],[7.6,0.027],[7.2,0.015],[6.1,0.025],[5.8,0.035],[5,0.043],[10.6,0.017],[8.2,0.01],[4.7,0.0],[4.9,0.003],[3.5,0.015],[4,0.015],[1.2,0.0],[1.6,0.0],[2.1,0.0],[2.4,0.0],
  [0.05,0.12],[0.1,0.1],[0.15,0.08],[0.2,0.06],[0.25,0.04],[0.3,0.02],[0.35,0.0],[0.45,0.11],[0.5,0.09],[0.55,0.07],[0.6,0.05],[0.65,0.03],[0.7,0.01],[0.85,0.1],[0.9,0.08],[0.95,0.06],[1.0,0.04],[1.05,0.02],[1.3,0.09],[1.35,0.07],[1.4,0.05],[1.45,0.03],[1.5,0.01],[1.7,0.085],[1.75,0.065],[1.8,0.045],[1.85,0.025],[2.1,0.075],[2.2,0.055],[2.3,0.035],[2.4,0.015],[2.6,0.07],[2.7,0.05],[2.8,0.03],[3.0,0.085],[3.1,0.045],[3.2,0.02],[3.4,0.065],[3.6,0.04],[3.8,0.055],[4.0,0.025],[4.2,0.035],[4.4,0.008],[0.05,0.0],[0.5,0.0],[0.9,0.0],[0.2,0.13],[0.4,0.125],[0.1,0.045],[0.3,0.085],[0.6,0.115],[1.1,0.105],[1.6,0.095],[2.0,0.005],[2.9,0.008],[3.3,0.002],[3.9,0.004],
  [0.05,0.08],[0.1,0.06],[0.15,0.04],[0.2,0.02],[0.25,0.11],[0.3,0.1],[0.35,0.07],[0.4,0.05],[0.45,0.03],[0.5,0.015],[0.55,0.1],[0.6,0.08],[0.65,0.06],[0.7,0.04],[0.75,0.02],[0.8,0.09],[0.9,0.05],[1.0,0.07],[1.05,0.03],[1.1,0.06],[1.2,0.08],[1.25,0.02],[1.3,0.04],[1.4,0.065],[1.55,0.075],[1.6,0.04],[1.7,0.02],[1.8,0.06],[1.95,0.05],[2.0,0.03],[2.15,0.065],[2.35,0.045],[2.5,0.025],[2.55,0.09],[2.75,0.06],[2.95,0.04],[3.3,0.05],[3.5,0.025],[3.7,0.07],[4.1,0.05]];
const macroM0B = [[0.2,0.51],[0.9,0.51],[1.5,0.51],[0.6,0.48],[0.8,0.48],[0.8,0.46],[1.1,0.44],[0.1,0.43],[0.1,0.408],[0.5,0.415],[0.3,0.38],[3.3,0.41],[5.6,0.45],[13.6,0.345],[8,0.335],[9.3,0.31],[9.6,0.32],[10.5,0.28],[10.8,0.225],[6.2,0.21],[7.3,0.16],[7.5,0.16],[6.8,0.14],[6.7,0.15],[0.2,0.34],[0.5,0.36],[1.5,0.34],[2,0.35],[3.8,0.31],[4.2,0.33],[4.4,0.32],[4.6,0.265],[4.9,0.27],[3.6,0.27],[2.5,0.3],[3.9,0.23],[4.4,0.22],[5.8,0.16],[6.5,0.13],[5.4,0.13],[4.5,0.21],[7.2,0.08],[8.7,0.055],[7.7,0.03],[7.9,0.01],[7.3,0.0],[10.7,0.0],[10.6,0.115],[5.5,0.08],[6.3,0.06],[5.8,0.04],[5.5,0.045],[4.9,0.06],[3.5,0.065],[3.8,0.0],[3.2,0.0],[2.5,0.0],[1.6,0.0],[0.8,0.0],[4.3,0.0],[4.8,0.0],[5.4,0.0],
  [0.05,0.28],[0.1,0.24],[0.15,0.2],[0.2,0.16],[0.25,0.12],[0.3,0.08],[0.35,0.04],[0.4,0.01],[0.5,0.26],[0.55,0.22],[0.6,0.18],[0.65,0.14],[0.7,0.1],[0.75,0.06],[0.8,0.025],[1.0,0.3],[1.05,0.2],[1.1,0.16],[1.15,0.12],[1.2,0.08],[1.25,0.04],[1.5,0.25],[1.55,0.19],[1.6,0.14],[1.65,0.1],[1.7,0.06],[1.75,0.02],[2.0,0.22],[2.05,0.17],[2.1,0.12],[2.15,0.08],[2.2,0.04],[2.5,0.2],[2.55,0.15],[2.6,0.11],[2.65,0.07],[2.7,0.03],[3.0,0.18],[3.05,0.13],[3.1,0.09],[3.15,0.05],[3.5,0.15],[3.55,0.11],[3.6,0.08],[4.0,0.12],[4.1,0.09],[4.2,0.05],[0.1,0.32],[0.3,0.27],[0.9,0.23],[1.3,0.27],[1.8,0.28],[2.3,0.26],[2.8,0.23],[0.4,0.135],[0.9,0.11],[1.4,0.05],[1.9,0.14],[2.4,0.1],[2.9,0.06],[3.4,0.2],[0.2,0.06],[0.6,0.0],[1.1,0.0],[2.0,0.0],
  [0.05,0.18],[0.1,0.14],[0.15,0.1],[0.2,0.06],[0.25,0.02],[0.3,0.22],[0.35,0.18],[0.4,0.11],[0.45,0.07],[0.5,0.03],[0.55,0.15],[0.6,0.09],[0.65,0.2],[0.7,0.05],[0.75,0.16],[0.85,0.12],[0.95,0.07],[1.0,0.18],[1.1,0.04],[1.2,0.14],[1.25,0.22],[1.35,0.09],[1.45,0.17],[1.55,0.06],[1.65,0.13],[1.8,0.08],[1.9,0.18],[2.0,0.1],[2.2,0.15],[2.35,0.05],[2.45,0.12],[2.6,0.18],[2.75,0.09],[2.9,0.13],[3.1,0.04],[3.3,0.11],[3.45,0.07],[3.7,0.12],[3.9,0.04],[4.3,0.1]];
const dcRestB = [[10.8,0.48],[0.1,0.362],[5.6,0.36],[4.8,0.308],[0.7,0.283],[1,0.272],[0.1,0.27],[13.7,0.25],[3,0.235],[4.5,0.23],[4.2,0.228],[1.5,0.23],[0,0.199],[0.1,0.19],[0.1,0.186],[1.2,0.21],[2.5,0.205],[2.8,0.213],[3.5,0.21],[3.9,0.215],[8.2,0.205],[5.7,0.193],[4,0.192],[2,0.19],[2,0.186],[2.4,0.19],[7.5,0.165],[7.3,0.16],[3.5,0.165],[3.6,0.16],[3.8,0.155],[5.3,0.152],[5.6,0.142],[4.3,0.14],[4.1,0.13],[6,0.12],[6.1,0.125],[5.5,0.105],[5.8,0.105],[5.5,0.075],[6,0.08],[4.4,0.075],[4.6,0.08],[5.2,0.072],[7.1,0.055],[7.2,0.06],[7.4,0.045],[9.2,0.043],[6.6,0.046],[5.6,0.037],[6,0.036],[6.1,0.036],[4,0.026],[4.8,0.016],[7.5,0.022],[8.6,0.025],[6.5,0.015],[10.7,0.005],[10.6,0.005],[10.9,0.0],[9.6,0.0],[7.9,0.0],[7.7,0.013],[8,0.0],[6.3,0.005],[6.1,0.0],[5.8,0.0],[4.4,0.0],[3.9,0.0],[3.5,0.0],
  [0.05,0.1],[0.1,0.08],[0.15,0.06],[0.2,0.04],[0.25,0.02],[0.3,0.0],[0.45,0.12],[0.5,0.09],[0.55,0.07],[0.6,0.05],[0.65,0.03],[0.7,0.01],[0.85,0.14],[0.9,0.11],[0.95,0.08],[1.0,0.06],[1.05,0.035],[1.1,0.015],[1.3,0.1],[1.35,0.075],[1.4,0.05],[1.45,0.025],[1.5,0.0],[1.7,0.13],[1.75,0.09],[1.8,0.06],[1.85,0.035],[1.9,0.01],[2.1,0.11],[2.2,0.08],[2.3,0.05],[2.4,0.02],[2.6,0.09],[2.7,0.06],[2.8,0.03],[3.0,0.1],[3.1,0.07],[3.2,0.04],[3.4,0.085],[3.5,0.05],[3.7,0.11],[3.8,0.03],[0.05,0.0],[0.4,0.155],[0.2,0.11],[0.75,0.125],[0.4,0.03],[1.2,0.145],[1.6,0.155],[2.0,0.14],[2.5,0.135],[2.9,0.0],[0.8,0.0],[1.15,0.0],[2.0,0.0],[2.5,0.0],
  [0.05,0.05],[0.1,0.03],[0.15,0.12],[0.2,0.07],[0.25,0.045],[0.3,0.09],[0.35,0.015],[0.4,0.06],[0.45,0.04],[0.5,0.02],[0.55,0.1],[0.6,0.075],[0.65,0.055],[0.75,0.03],[0.8,0.09],[0.9,0.05],[1.0,0.02],[1.05,0.1],[1.15,0.07],[1.25,0.04],[1.35,0.12],[1.45,0.085],[1.55,0.06],[1.65,0.03],[1.8,0.1],[1.9,0.045],[2.0,0.07],[2.15,0.03],[2.3,0.09],[2.45,0.06],[2.6,0.04],[2.75,0.08],[2.9,0.05],[3.05,0.02],[3.3,0.06],[3.45,0.03],[3.6,0.07],[3.9,0.05],[0.2,0],[0.6,0]];
const nkRestB = [[0.2,0.098],[0.9,0.09],[0.2,0.076],[0.05,0.07],[0.05,0.067],[0.15,0.066],[0.05,0.061],[0.05,0.053],[0.1,0.051],[2,0.056],[1.6,0.053],[1,0.047],[0.9,0.045],[1.1,0.044],[0.1,0.043],[0.1,0.042],[4.4,0.042],[6.3,0.037],[7.7,0.038],[1.3,0.036],[1.7,0.035],[2.8,0.03],[4.2,0.028],[9.2,0.025],[2.1,0.026],[2.9,0.024],[4.7,0.021],[3.5,0.019],[3.8,0.017],[8.2,0.018],[2.1,0.017],[2.7,0.014],[3.3,0.012],[4.9,0.014],[3.6,0.015],[5.7,0.009],[6.4,0.007],[10.7,0.009],[13.7,0.01],[4.3,0.006],[3.2,0.004],[2.4,0.004],[4.7,0.004],[1.2,0.032],
  [0.05,0],[0.2,0],[0.4,0],[0.6,0],[0.8,0],[1,0],[1.2,0],[1.4,0],[1.6,0],[1.8,0],[2,0],[2.2,0],[2.5,0],[2.8,0],[3.1,0],[3.4,0],[3.7,0],[4,0],[4.3,0],[4.6,0],[4.8,0],[5.2,0],[5.6,0],[5.9,0],[6.2,0],[6.6,0],[7,0],[7.3,0],[7.6,0],[7.9,0],[8.6,0],[9.6,0],[10.6,0],[10.8,0],[10.9,0],
  [0.05,0.035],[0.1,0.028],[0.15,0.022],[0.2,0.016],[0.25,0.01],[0.3,0.005],[0.4,0.03],[0.45,0.024],[0.5,0.018],[0.55,0.012],[0.6,0.006],[0.7,0.033],[0.75,0.027],[0.8,0.02],[0.85,0.014],[0.9,0.008],[1.0,0.025],[1.05,0.018],[1.1,0.011],[1.2,0.005],[1.3,0.022],[1.4,0.015],[1.5,0.009],[1.7,0.02],[1.8,0.012],[2.0,0.006],[2.2,0.01],[0.3,0.04],[0.6,0.038],[0.1,0.012],[0.35,0.02],[0.65,0.025],
  [0.05,0.02],[0.1,0.008],[0.15,0.03],[0.2,0.004],[0.25,0.025],[0.3,0.014],[0.35,0.032],[0.4,0.01],[0.45,0.018],[0.5,0.028],[0.55,0.005],[0.6,0.022],[0.7,0.015],[0.75,0.005],[0.8,0.03],[0.9,0.02],[0.95,0.012],[1.05,0.028],[1.1,0.004],[1.2,0.018],[1.3,0.01],[1.4,0.025],[1.55,0.015],[1.65,0.006],[1.8,0.02],[1.9,0.004],[2.1,0.015],[2.4,0.008],[2.6,0.012],[3.0,0.006],[0.1,0],[0.3,0],[0.5,0],[0.7,0],[0.9,0],[1.1,0],[1.3,0],[1.5,0],[1.7,0],[1.9,0]];
const nkActB = [[2.2,0.086],[1.9,0.081],[0.3,0.078],[1.1,0.078],[2.4,0.078],[2.5,0.077],[0.5,0.075],[2.5,0.073],[4.4,0.07],[0.2,0.069],[0.4,0.069],[0.2,0.067],[0.2,0.064],[1.1,0.065],[1.2,0.065],[1.7,0.064],[5.2,0.064],[0.8,0.062],[2.4,0.06],[2.6,0.059],[3.3,0.061],[0.2,0.057],[1.5,0.053],[2.1,0.05],[3.7,0.05],[4.1,0.05],[6.1,0.051],[5.4,0.047],[8.7,0.044],[4.5,0.042],[3.8,0.04],[4.1,0.038],[3.4,0.037],[3.6,0.037],[5.6,0.038],[9.6,0.039],[7.4,0.04],[7.2,0.033],[8,0.032],[5.3,0.033],[5.9,0.03],[7.2,0.03],[7.9,0.027],[10.8,0.028],[4.4,0.028],[4.5,0.025],[4,0.026],[6.5,0.021],[5.5,0.024],[5.8,0.018],[6,0.016],[6.5,0.018],[7.8,0.015],[10.6,0.022],[10.9,0.019],[8.2,0.008],[10.7,0.005],[5.5,0.006],[6.5,0.006],[5.6,0.003],[7.4,0.002],[7.4,0.0],[7.7,0.0],[9.2,0.0],[13.7,0.0],[5.8,0.0],[6.2,0.0],[5.5,0.0],[4.8,0.008],[4.1,0.01],[3.8,0.013],[3.6,0.005],[4.5,0.003],
  [0.05,0.045],[0.1,0.035],[0.15,0.025],[0.2,0.015],[0.25,0.005],[0.35,0.04],[0.4,0.03],[0.45,0.02],[0.5,0.01],[0.6,0.048],[0.65,0.037],[0.7,0.027],[0.75,0.017],[0.8,0.007],[0.95,0.042],[1.0,0.032],[1.05,0.022],[1.1,0.012],[1.15,0.002],[1.3,0.045],[1.35,0.035],[1.4,0.025],[1.45,0.015],[1.5,0.005],[1.7,0.04],[1.75,0.03],[1.8,0.02],[1.85,0.01],[2.1,0.035],[2.15,0.025],[2.2,0.015],[2.25,0.005],[2.5,0.03],[2.6,0.02],[2.7,0.01],[2.9,0.033],[3.0,0.023],[3.1,0.013],[3.3,0.028],[3.4,0.018],[0.05,0.0],[0.3,0.0],[0.6,0.0],[0.9,0.0],[1.2,0.0],[1.6,0.0],[2.0,0.0],[2.4,0.0],[2.8,0.0],[3.2,0.0],[3.6,0.0],[4.0,0.0],[4.3,0.0],[0.15,0.055],[0.45,0.05],[0.85,0.052],
  [0.05,0.02],[0.1,0.01],[0.15,0.04],[0.2,0.03],[0.25,0.018],[0.3,0.05],[0.35,0.008],[0.4,0.045],[0.45,0.035],[0.5,0.028],[0.55,0.042],[0.65,0.012],[0.7,0.05],[0.75,0.03],[0.8,0.02],[0.85,0.04],[0.9,0.015],[1.0,0.025],[1.05,0.045],[1.1,0.035],[1.2,0.018],[1.25,0.03],[1.35,0.008],[1.4,0.04],[1.5,0.02],[1.6,0.032],[1.65,0.012],[1.9,0.025],[1.95,0.045],[2.0,0.015],[2.3,0.03],[2.35,0.02],[2.45,0.04],[2.65,0.028],[2.85,0.015],[3.05,0.04],[3.2,0.02],[0.2,0],[0.4,0],[0.8,0]];
const cd4ActB = [[0.3,0.215],[0.5,0.215],[0.2,0.175],[0.1,0.17],[0.3,0.159],[0.8,0.156],[1.6,0.162],[0.1,0.148],[0.1,0.14],[0.2,0.135],[2.3,0.141],[2.7,0.134],[0.5,0.132],[0.8,0.122],[0.4,0.112],[1.1,0.108],[2.6,0.11],[2.8,0.1],[1.4,0.095],[1.2,0.088],[2.3,0.083],[1.8,0.082],[2.3,0.072],[2.4,0.07],[2.8,0.068],[1.6,0.059],[2.5,0.058],[2.9,0.058],[3.4,0.046],[4,0.05],[3.6,0.041],[7.1,0.058],[5.6,0.048],[5.5,0.043],[6.3,0.04],[7.4,0.036],[7,0.023],[7.3,0.022],[7.6,0.015],[10.9,0.026],[9.6,0.008],[9.2,0.007],[13.7,0.007],[10.6,0.0],[10.7,0.0],[7.9,0.002],[8.1,0.0],[8.6,0.0],[7.3,0.0],[6.5,0.0],[6.4,0.014],[5.8,0.008],[5.9,0.012],[5.2,0.01],[5,0.005],[4.6,0.0],[4.4,0.02],[4.3,0.025],[4.1,0.018],[3.8,0.022],
  [0.05,0.09],[0.1,0.075],[0.15,0.06],[0.2,0.045],[0.25,0.03],[0.3,0.015],[0.35,0.0],[0.45,0.085],[0.5,0.07],[0.55,0.055],[0.6,0.04],[0.65,0.025],[0.7,0.01],[0.85,0.08],[0.9,0.062],[0.95,0.045],[1.0,0.03],[1.05,0.015],[1.1,0.0],[1.3,0.068],[1.35,0.05],[1.4,0.035],[1.45,0.02],[1.5,0.005],[1.7,0.045],[1.75,0.03],[1.8,0.015],[1.85,0.0],[2.1,0.04],[2.15,0.025],[2.2,0.01],[2.5,0.035],[2.55,0.02],[2.6,0.005],[2.9,0.03],[3.0,0.015],[3.1,0.0],[3.3,0.025],[3.4,0.01],[3.7,0.012],[3.9,0.0],[0.05,0.0],[0.2,0.1],[0.4,0.098],[0.7,0.1],[1.0,0.09],[0.15,0.02],[0.55,0.035],[0.8,0.005],[1.2,0.05],[1.6,0.025],[2.0,0.055],[2.4,0.048],[2.8,0.04],[0.4,0.0],[0.9,0.0],[1.3,0.0],[1.6,0.0],[2.0,0.0],[2.3,0.0],[2.8,0.0],[3.5,0.0],[4.2,0.0],
  [0.05,0.06],[0.1,0.04],[0.15,0.08],[0.2,0.03],[0.25,0.065],[0.3,0.05],[0.35,0.02],[0.4,0.075],[0.45,0.04],[0.5,0.01],[0.55,0.09],[0.6,0.06],[0.65,0.045],[0.7,0.03],[0.75,0.07],[0.8,0.05],[0.9,0.02],[0.95,0.07],[1.05,0.055],[1.15,0.04],[1.2,0.025],[1.25,0.075],[1.35,0.01],[1.45,0.06],[1.55,0.04],[1.65,0.015],[1.75,0.055],[1.9,0.035],[2.0,0.02],[2.1,0.065],[2.25,0.04],[2.4,0.025],[2.5,0.01],[2.7,0.045],[2.85,0.02],[3.0,0.035],[3.2,0.015],[3.5,0.03],[3.7,0.02],[4.0,0.01]];
const dcActB = [[0.1,0.365],[0.3,0.18],[0.5,0.165],[1.4,0.15],[0.6,0.13],[3,0.16],[0.3,0.125],[0.8,0.12],[1.6,0.123],[1.5,0.11],[2,0.11],[0.1,0.11],[3.2,0.12],[0.8,0.098],[1.7,0.097],[2.4,0.1],[3.3,0.09],[2.1,0.082],[2.7,0.072],[0.2,0.085],[0.4,0.08],[3.8,0.06],[4.1,0.055],[4.8,0.045],[4.2,0.04],[6.2,0.035],[5.1,0.04],[5.5,0.033],[6.6,0.03],[5,0.025],[10.3,0.062],[10.2,0.042],[6,0.016],[10.6,0.0],[13.7,0.01],[10.7,0.013],[7.1,0.02],[7.2,0.0],[5.8,0.0],[5.2,0.004],[4.6,0.0],[4.3,0.013],[3.8,0.0],[3.6,0.015],[3.3,0.005],
  [0.05,0.06],[0.1,0.045],[0.15,0.03],[0.2,0.015],[0.25,0.0],[0.4,0.055],[0.45,0.04],[0.5,0.025],[0.55,0.01],[0.7,0.065],[0.75,0.05],[0.8,0.035],[0.85,0.02],[0.9,0.005],[1.05,0.058],[1.1,0.042],[1.15,0.028],[1.2,0.012],[1.25,0.0],[1.4,0.05],[1.45,0.035],[1.5,0.02],[1.55,0.005],[1.75,0.045],[1.8,0.03],[1.85,0.015],[1.9,0.0],[2.1,0.04],[2.2,0.025],[2.3,0.01],[2.5,0.035],[2.6,0.018],[2.7,0.003],[2.9,0.03],[3.0,0.012],[3.2,0.022],[3.5,0.008],[3.7,0.025],[0.05,0.0],[0.3,0.07],[0.6,0.08],[1.0,0.075],[1.3,0.068],[0.35,0.022],[0.65,0.0],[1.0,0.015],[1.65,0.06],[2.0,0.055],[2.4,0.05],[2.8,0.045],[3.4,0.04],
  [0.05,0.03],[0.1,0.01],[0.15,0.05],[0.2,0.04],[0.25,0.02],[0.3,0.035],[0.35,0.01],[0.4,0.03],[0.45,0.015],[0.5,0.045],[0.55,0.03],[0.6,0.02],[0.65,0.04],[0.7,0.005],[0.75,0.025],[0.8,0.055],[0.85,0.01],[0.9,0.03],[1.0,0.04],[1.05,0.005],[1.1,0.025],[1.2,0.045],[1.3,0.015],[1.35,0.03],[1.45,0.055],[1.5,0.01],[1.6,0.035],[1.7,0.02],[1.8,0.05],[1.95,0.025],[2.05,0.01],[2.15,0.035],[2.35,0.02],[2.5,0.005],[2.65,0.03],[2.85,0.015],[3.1,0.03],[3.3,0.01],[3.6,0.02],[3.9,0.01]];
const tregsB = [[0.3,0.098],[0.6,0.099],[5.8,0.091],[0.7,0.088],[0.9,0.085],[0.6,0.074],[1.8,0.07],[2.4,0.069],[0.1,0.065],[0.2,0.06],[0.6,0.068],[0.9,0.067],[1.1,0.066],[1.5,0.061],[2.2,0.061],[2.5,0.06],[0.5,0.061],[2.8,0.055],[4.8,0.057],[3.6,0.052],[4.4,0.051],[5.5,0.047],[5.8,0.043],[6.4,0.046],[7.1,0.042],[10.6,0.051],[10.8,0.043],[10.6,0.034],[9.2,0.034],[7.4,0.033],[8.7,0.03],[7.9,0.027],[7.9,0.024],[6.6,0.024],[7.1,0.022],[6.6,0.017],[7.2,0.017],[7.5,0.015],[8.2,0.01],[10.7,0.016],[13.6,0.018],[5.5,0.035],[5.6,0.033],[5.3,0.029],[6,0.019],[5.9,0.006],[5.5,0.016],[4.6,0.03],[4.2,0.034],[4.4,0.024],[4.8,0.016],[4.7,0.013],[4.5,0.001],[5.4,0.0],[5.5,0.0],[6.1,0.0],[6.3,0.0],[7.4,0.0],[9.6,0.0],
  [0.05,0],[0.3,0],[0.6,0],[0.9,0],[1.2,0],[1.5,0],[1.8,0],[2.1,0],[2.4,0],[2.7,0],[3.0,0],[3.3,0],[3.6,0],[3.9,0],[4.2,0],
  [0.05,0.05],[0.1,0.04],[0.15,0.03],[0.2,0.02],[0.25,0.01],[0.4,0.045],[0.45,0.035],[0.5,0.025],[0.55,0.015],[0.6,0.005],[0.8,0.05],[0.85,0.04],[0.9,0.03],[0.95,0.02],[1.0,0.01],[1.2,0.045],[1.25,0.035],[1.3,0.025],[1.35,0.015],[1.4,0.005],[1.7,0.04],[1.75,0.03],[1.8,0.02],[1.85,0.01],[2.1,0.038],[2.2,0.028],[2.3,0.018],[2.4,0.008],[2.6,0.035],[2.7,0.025],[2.8,0.015],[3.0,0.032],[3.1,0.022],[3.2,0.012],[3.4,0.03],[3.5,0.018],[3.7,0.028],[3.8,0.008],[4.0,0.02],[0.1,0.055],[0.3,0.058],[0.7,0.055],[1.1,0.052],[1.5,0.048],[2.0,0.045],[0.3,0.012],[0.7,0.018],[1.6,0.01],[2.5,0.042],
  [0.05,0.03],[0.1,0.02],[0.15,0.045],[0.2,0.01],[0.25,0.035],[0.3,0.025],[0.35,0.04],[0.4,0.015],[0.45,0.05],[0.5,0.032],[0.55,0.022],[0.6,0.04],[0.65,0.012],[0.7,0.03],[0.75,0.045],[0.8,0.02],[0.9,0.01],[0.95,0.035],[1.05,0.025],[1.1,0.04],[1.2,0.015],[1.3,0.03],[1.4,0.045],[1.45,0.02],[1.55,0.035],[1.65,0.012],[1.8,0.03],[1.9,0.042],[2.0,0.015],[2.2,0.035],[2.35,0.022],[2.5,0.03],[2.65,0.012],[2.85,0.035],[3.05,0.015],[3.25,0.025],[3.5,0.04],[3.8,0.02],[4.1,0.03],[4.4,0.012]];

// fitted regression lines: [start, end]
const fitLines = [
  [[0.6,0.081],[70,0.123]], [[0.6,0.145],[70,0.01]], [[0.6,0.062],[70,0.018]], [[0.6,0.0045],[70,-0.0075]], [[0.6,0.046],[70,0.1]],
  [[0.6,0.0145],[70,0.047]], [[0.6,0.0085],[70,-0.006]], [[0.6,0.038],[70,-0.015]], [[0.6,0.021],[70,0.005]], [[0.6,0.02],[70,0.029]],
  [[0.03,0.013],[13.7,0.033]], [[0.03,0.046],[13.7,0.097]], [[0.03,0.064],[13.7,0.008]], [[0.03,0.135],[13.7,0.103]], [[0.03,0.036],[13.7,0.147]],
  [[0.03,0.008],[13.7,-0.0035]], [[0.03,0.0165],[13.7,0.0235]], [[0.03,0.042],[13.7,-0.036]], [[0.03,0.021],[13.7,0.021]], [[0.03,0.0185],[13.7,0.0275]]
];
const seriesList = [bCellsNaiveA, macroM0A, macroM1A, mastActA, mastRestA, nkActA, nkRestA, cd4ActA, tregsA, dcActA,
  monocytesB, mastRestB, macroM1B, macroM0B, dcRestB, nkRestB, nkActB, cd4ActB, dcActB, tregsB];

const genes = ['MECOM','MECOM','MECOM','MECOM','MECOM','MECOM','MECOM','MECOM','MECOM','MECOM',
  'PRDM16','PRDM16','PRDM16','PRDM16','PRDM16','PRDM16','PRDM16','PRDM16','PRDM16','PRDM16'];
const panelTitles = ['B cells naive','Macrophages M0','Macrophages M1','Mast cells activated','Mast cells resting',
  'NK cells activated','NK cells resting','T cells CD4 memory activated','Tregs','Dendritic cells activated',
  'Monocytes','Mast cells resting','Macrophages M1','Macrophages M0','Dendritic cells resting',
  'NK cells resting','NK cells activated','T cells CD4 memory activated','Dendritic cells activated','Trges'];
const yTitles = ['B cells naive','Macrophages M0','Macrophages M1','Mast cells activated','Mast cells resting',
  'NK cells activated','NK cells resting','T cells CD4 memory activated','T cells regulatory (Tregs)','Dendritic cells activated',
  'Monocytes','Mast cells resting','Macrophages M1','Macrophages M0','Dendritic cells resting',
  'NK cells resting','NK cells activated','T cells CD4 memory activated','Dendritic cells activated','T cells regulatory (Tregs)'];
const rValues = ['0.16','\u22120.2','\u22120.13','\u22120.15','0.24','0.18','\u22120.15','\u22120.2','\u22120.095','0.13',
  '0.18','0.28','\u22120.29','\u22120.13','0.25','\u22120.18','0.11','\u22120.38','0.12','0.098'];
const pValues = ['= 3e\u221204','= 3.2e\u221206','= 0.004','= 0.00064','= 5.5e\u221208','= 2.4e\u221205','= 0.00093','= 3e\u221206','= 0.031','= 0.003',
  '= 4.4e\u221205','= 5.1e\u221211','= 7.4e\u221212','= 0.0027','= 8.6e\u221209','= 4.8e\u221205','= 0.013','< 2.2e\u221216','= 0.0047','= 0.025'];
// y limits [min, max], major tick step, decimals on labels
const yLimits = [[-0.016,0.341],[-0.09,0.536],[-0.0217,0.2075],[-0.026,0.177],[-0.0117,0.226],
  [-0.0047,0.0902],[-0.0214,0.103],[-0.055,0.229],[-0.0145,0.104],[-0.02,0.385],
  [-0.0137,0.2126],[-0.0157,0.227],[-0.024,0.2096],[-0.0335,0.533],[-0.03,0.506],
  [-0.0166,0.103],[-0.0046,0.0893],[-0.0695,0.228],[-0.02,0.383],[-0.0045,0.105]];
const yMajor = [0.1,0.1,0.05,0.05,0.05, 0.025,0.025,0.05,0.025,0.1, 0.05,0.05,0.05,0.1,0.1, 0.025,0.025,0.1,0.1,0.025];
const yDecimals = [1,1,2,2,2, 3,3,2,3,1, 2,2,2,1,1, 3,3,1,1,3];
const xLimitsMECOM = [-2.87, 73.47], xMajorMECOM = 20;
const xLimitsPRDM16 = [-0.69, 14.4], xMajorPRDM16 = 5;

// ---- layout (page pixels): plot box [left, top, right, bottom] and title centre ----
const boxes = [[70,53,311,297],[374,52,615,295],[694,53,932,296],[1010,53,1248,296],[1327,52,1557,296],
  [68,378,311,622],[377,378,624,622],[700,378,937,622],[1005,378,1247,622],[1328,378,1567,622],
  [76,772,311,1020],[378,772,615,1020],[695,778,933,1022],[1003,784,1245,1021],[1328,771,1567,1018],
  [79,1112,311,1357],[382,1114,614,1357],[690,1113,934,1357],[1005,1113,1245,1357],[1328,1118,1567,1362]];
const titlePos = [[190,336],[488,336],[800,336],[1130,336],[1447,336],
  [190,663],[482,663],[820,663],[1130,663],[1452,663],
  [178,1062],[482,1062],[828,1062],[1119,1062],[1447,1062],
  [190,1405],[489,1405],[806,1405],[1130,1405],[1457,1405]];

const FONT = '"Liberation Sans", Arial, sans-serif';
const Y_W = 40, X_H = 24, PAD_T = 2, PAD_R = 3;

function isMajor(v, step) { const q = v / step; return Math.abs(q - Math.round(q)) < 1e-6; }
function fmt(v, dec) { const s = (Math.abs(v) < 1e-9 ? 0 : v).toFixed(dec); return s.replace('-', '\u2212'); }
function tickValues(min, max, step) {
  const half = step / 2, out = [];
  for (let k = Math.ceil(min / half - 1e-9); k * half <= max + 1e-9; k++) out.push(+(k * half).toFixed(6));
  return out;
}

const panelDeco = {
  id: 'panelDeco',
  afterDraw(chart) {
    const o = chart.options.plugins.panelDeco;
    const { ctx, chartArea: a } = chart;
    ctx.save();
    ctx.strokeStyle = '#6e6e6e';
    ctx.lineWidth = 1.2;
    ctx.strokeRect(a.left, a.top, a.right - a.left, a.bottom - a.top);
    // correlation label
    let x = a.left + 10;
    const y = a.top + 17;
    ctx.fillStyle = '#111';
    ctx.textBaseline = 'middle';
    ctx.textAlign = 'left';
    const parts = [['R', true], [' = ' + o.r + ', ', false], ['p', true], [' ' + o.p, false]];
    for (const [t, it] of parts) {
      ctx.font = (it ? 'italic ' : '') + '8px ' + FONT;
      ctx.fillText(t, x, y);
      x += ctx.measureText(t).width;
    }
    // axis titles
    ctx.fillStyle = '#1a1a1a';
    ctx.textAlign = 'center';
    ctx.font = '8px ' + FONT;
    ctx.fillText(o.xTitle, (a.left + a.right) / 2, a.bottom + 15);
    ctx.font = '7px ' + FONT;
    let lw = 0;
    chart.scales.y.ticks.forEach(t => { if (t.label) lw = Math.max(lw, ctx.measureText(t.label).width); });
    ctx.translate(a.left - lw - 11, (a.top + a.bottom) / 2);
    ctx.rotate(-Math.PI / 2);
    ctx.font = '8px ' + FONT;
    ctx.fillText(o.yTitle, 0, 0);
    ctx.restore();
  }
};

function gridOpts(step) {
  return {
    color: c => (c.tick && isMajor(c.tick.value, step)) ? '#e6e6e6' : '#f3f3f3',
    lineWidth: c => (c.tick && isMajor(c.tick.value, step)) ? 0.9 : 0.6,
    tickColor: c => (c.tick && isMajor(c.tick.value, step)) ? '#555' : 'rgba(0,0,0,0)',
    tickLength: 3
  };
}

const root = document.getElementById('root');
seriesList.forEach((pts, i) => {
  const [l, t, r, b] = boxes[i];
  const isA = i < 10;
  const xl = isA ? xLimitsMECOM : xLimitsPRDM16;
  const xs = isA ? xMajorMECOM : xMajorPRDM16;
  const yl = yLimits[i], ys = yMajor[i], yd = yDecimals[i];

  const cv = document.createElement('canvas');
  const w = r - l + Y_W + PAD_R, h = b - t + PAD_T + X_H;
  cv.width = w; cv.height = h;
  cv.style.left = (l - Y_W) + 'px';
  cv.style.top = (t - PAD_T) + 'px';
  cv.style.width = w + 'px'; cv.style.height = h + 'px';
  root.appendChild(cv);

  const ttl = document.createElement('div');
  ttl.className = 'ttl';
  ttl.textContent = panelTitles[i];
  ttl.style.left = titlePos[i][0] + 'px';
  ttl.style.top = titlePos[i][1] + 'px';
  root.appendChild(ttl);

  new Chart(cv, {
    type: 'scatter',
    data: {
      datasets: [
        { type: 'line', data: fitLines[i].map(p => ({ x: p[0], y: p[1] })), borderColor: '#3d64c8',
          borderWidth: 1.6, pointRadius: 0, fill: false, order: 0 },
        { data: pts.map(p => ({ x: p[0], y: p[1] })), backgroundColor: '#000', borderWidth: 0,
          pointRadius: 2.3, pointHoverRadius: 2.3, order: 1 }
      ]
    },
    options: {
      responsive: false,
      animation: false,
      events: [],
      layout: { padding: { top: PAD_T, right: PAD_R, left: 0, bottom: 0 } },
      plugins: {
        legend: { display: false },
        tooltip: { enabled: false },
        panelDeco: { r: rValues[i], p: pValues[i], xTitle: genes[i], yTitle: yTitles[i] }
      },
      scales: {
        x: {
          type: 'linear', min: xl[0], max: xl[1],
          afterBuildTicks: s => { s.ticks = tickValues(xl[0], xl[1], xs).map(v => ({ value: v })); },
          afterFit: s => { s.height = X_H; },
          ticks: { autoSkip: false, maxRotation: 0, padding: 1, color: '#555', font: { size: 7, family: FONT },
                   callback: v => isMajor(v, xs) ? fmt(v, 0) : '' },
          grid: gridOpts(xs),
          border: { display: false }
        },
        y: {
          type: 'linear', min: yl[0], max: yl[1],
          afterBuildTicks: s => { s.ticks = tickValues(yl[0], yl[1], ys).map(v => ({ value: v })); },
          afterFit: s => { s.width = Y_W; },
          ticks: { autoSkip: false, padding: 2, color: '#555', font: { size: 7, family: FONT },
                   callback: v => isMajor(v, ys) ? fmt(v, yd) : '' },
          grid: gridOpts(ys),
          border: { display: false }
        }
      }
    },
    plugins: [panelDeco]
  });
});
</script>
</body>
</html>
